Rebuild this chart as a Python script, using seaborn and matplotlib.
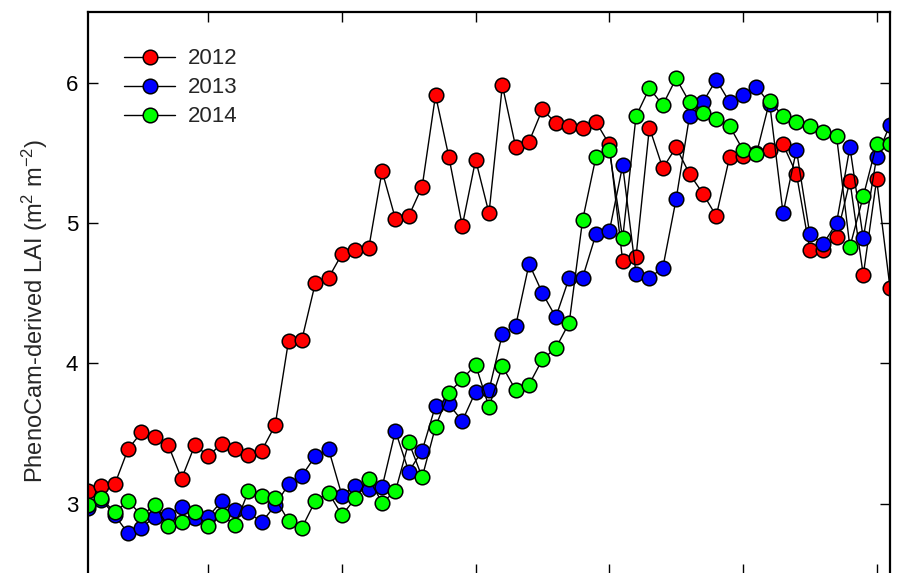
import numpy as np
import pandas as pd
import matplotlib
matplotlib.use("Agg")
import matplotlib.pyplot as plt
import seaborn as sns

# Day of year of each PhenoCam composite (3-day steps)
doy = [93, 96, 99, 102, 105, 108, 111, 114, 117, 120, 123, 126, 129, 132, 135,
       138, 141, 144, 147, 150, 153, 156, 159, 162, 165, 168, 171, 174, 177, 180,
       183, 186, 189, 192, 195, 198, 201, 204, 207, 210, 213, 216, 219, 222, 225,
       228, 231, 234, 237, 240, 243, 246, 249, 252, 255, 258, 261, 264, 267, 270,
       273]

lai_2012 = [3.09, 3.13, 3.14, 3.39, 3.51, 3.48, 3.42, 3.18, 3.42, 3.34, 3.43, 3.39, 3.35, 3.38, 3.56,
            4.16, 4.17, 4.57, 4.61, 4.78, 4.81, 4.82, 5.37, 5.03, 5.05, 5.26, 5.91, 5.47, 4.98, 5.45, 5.07,
            5.98, 5.54, 5.58, 5.81, 5.71, 5.69, 5.68, 5.72, 5.56, 4.73, 4.76, 5.68, 5.39, 5.54, 5.35,
            5.21, 5.05, 5.47, 5.48, 5.50, 5.52, 5.56, 5.35, 4.81, 4.81, 4.90, 5.30, 4.63, 5.31, 4.54]

lai_2013 = [2.97, 3.03, 2.92, 2.79, 2.83, 2.91, 2.92, 2.98, 2.90, 2.91, 3.02, 2.96, 2.94, 2.87, 2.99,
            3.14, 3.20, 3.34, 3.39, 3.06, 3.13, 3.11, 3.12, 3.52, 3.23, 3.38, 3.70, 3.71, 3.59, 3.80, 3.81,
            4.21, 4.27, 4.71, 4.50, 4.33, 4.61, 4.61, 4.92, 4.94, 5.41, 4.64, 4.61, 4.68, 5.17, 5.76,
            5.86, 6.02, 5.86, 5.91, 5.97, 5.85, 5.07, 5.52, 4.92, 4.85, 5.00, 5.54, 4.89, 5.47, 5.70]

lai_2014 = [2.99, 3.04, 2.94, 3.02, 2.92, 2.99, 2.84, 2.87, 2.94, 2.84, 2.92, 2.85, 3.09, 3.06, 3.04,
            2.88, 2.83, 3.02, 3.08, 2.92, 3.04, 3.18, 3.01, 3.09, 3.44, 3.19, 3.55, 3.79, 3.89, 3.99, 3.69,
            3.98, 3.81, 3.85, 4.03, 4.11, 4.29, 5.02, 5.47, 5.52, 4.89, 5.76, 5.96, 5.84, 6.03, 5.86,
            5.78, 5.74, 5.69, 5.52, 5.49, 5.87, 5.76, 5.72, 5.69, 5.65, 5.62, 4.83, 5.19, 5.56, 5.56]

years = ["2012", "2013", "2014"]
series = [lai_2012, lai_2013, lai_2014]
fill_colors = ["#ff0000", "#0000ff", "#00ff00"]

x_ticks = [120, 150, 180, 210, 240, 270]
y_ticks = [3, 4, 5, 6]

sns.set_style("ticks")
plt.rcParams["font.family"] = ["Liberation Sans", "DejaVu Sans"]
plt.rcParams["mathtext.fontset"] = "custom"
plt.rcParams["mathtext.rm"] = "Liberation Sans"
plt.rcParams["mathtext.it"] = "Liberation Sans"

fig = plt.figure(figsize=(8.97, 5.73), dpi=100)
fig.patch.set_facecolor("white")
# the panel runs slightly past the lower edge of the canvas
ax = fig.add_axes([88 / 897, -0.0021, 802 / 897, 0.9806])
ax.set_facecolor("white")

for yr, vals, col in zip(years, series, fill_colors):
    df = pd.DataFrame({"doy": doy, "lai": vals})
    sns.lineplot(data=df, x="doy", y="lai", ax=ax, color="black", linewidth=1.0,
                 marker="o", markersize=10.5, markerfacecolor=col,
                 markeredgecolor="black", markeredgewidth=1.1,
                 estimator=None, sort=False, label=yr)

ax.set_xlim(93, 273)
ax.set_ylim(2.5, 6.5)
ax.set_xticks(x_ticks)
ax.set_yticks(y_ticks)
ax.set_xlabel("")
ax.set_ylabel("")
ax.tick_params(axis="both", direction="in", length=7, width=1.0,
               top=True, right=True, labelsize=16, pad=7, colors="black")
ax.tick_params(axis="x", labelbottom=False)
for sp in ax.spines.values():
    sp.set_visible(True)
    sp.set_linewidth(1.6)
    sp.set_color("black")

fig.text(35 / 897, 1 - 311 / 573, r"PhenoCam-derived LAI (m$^{2}$ m$^{-2}$)",
         rotation=90, ha="center", va="center", fontsize=17)

leg = ax.legend(loc="upper left", bbox_to_anchor=(0.045, 0.936), frameon=False,
                fontsize=16, handlelength=2.3, handletextpad=0.58,
                labelspacing=0.36, borderpad=0, borderaxespad=0)

fig.savefig("out.png", dpi=100, facecolor="white")
